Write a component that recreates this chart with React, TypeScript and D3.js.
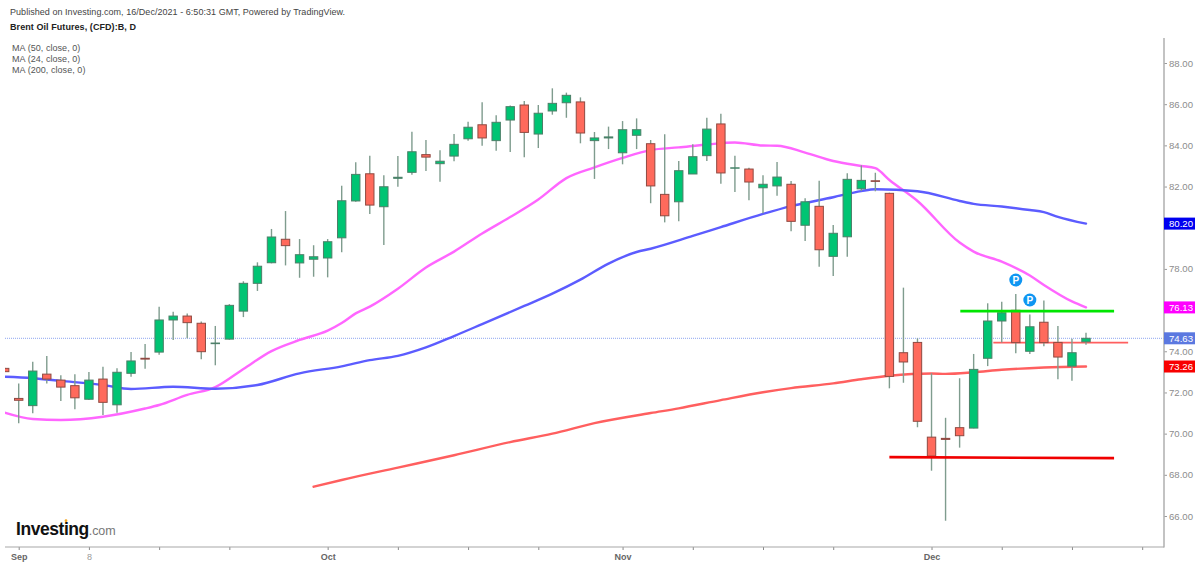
import { useEffect, useRef } from 'react';
import * as d3 from 'd3';

const WIDTH = 1200;
const HEIGHT = 566;

// daily candles, index -1 is the one cut off by the left edge
const firstDay = -1;
const opens = [73.17, 71.71, 71.36, 72.89, 72.6, 72.33, 71.67, 72.65, 71.4, 72.93, 73.66, 73.96, 75.52, 75.71, 75.36, 74.37, 74.59, 75.95, 77.3, 78.3, 79.44, 78.29, 78.47, 78.53, 79.51, 81.3, 82.62, 81.02, 82.4, 82.69, 83.55, 83.11, 83.48, 84.32, 85.0, 84.23, 85.23, 85.96, 84.55, 85.67, 86.07, 86.11, 84.23, 84.36, 83.64, 84.49, 84.08, 81.62, 81.26, 82.61, 83.5, 85.04, 82.89, 82.85, 81.94, 82.03, 82.11, 80.12, 81.04, 78.61, 79.56, 81.89, 82.28, 81.67, 73.93, 74.43, 69.83, 69.77, 70.29, 70.27, 73.66, 75.47, 75.99, 74.0, 75.41, 74.43, 73.28, 74.46];
const highs = [73.2, 72.44, 73.49, 73.77, 72.83, 72.88, 72.99, 73.25, 73.17, 73.96, 74.35, 76.16, 75.92, 75.84, 75.45, 75.23, 76.29, 77.4, 78.32, 79.94, 80.81, 79.45, 79.15, 79.45, 82.04, 83.18, 83.5, 82.55, 83.48, 84.66, 84.26, 83.76, 84.55, 85.15, 86.09, 85.46, 85.93, 86.15, 85.96, 86.77, 86.56, 86.33, 84.65, 84.91, 85.18, 85.31, 84.26, 84.54, 83.24, 84.05, 85.34, 85.54, 83.5, 82.91, 82.55, 83.19, 82.27, 81.43, 82.28, 80.13, 82.64, 83.03, 82.67, 81.7, 77.09, 74.63, 72.93, 70.77, 72.69, 73.87, 76.33, 76.41, 76.78, 75.78, 76.46, 75.23, 74.61, 74.9];
const lows = [73.0, 70.5, 70.99, 72.44, 71.58, 71.18, 71.63, 70.9, 71.02, 72.76, 73.15, 73.83, 74.55, 74.63, 73.61, 73.32, 74.56, 75.66, 76.93, 78.27, 78.17, 77.57, 77.62, 77.59, 78.81, 81.26, 80.67, 79.16, 81.99, 82.57, 82.75, 82.23, 83.23, 84.23, 83.98, 83.74, 83.68, 83.42, 83.87, 85.49, 85.34, 84.1, 82.37, 83.82, 83.08, 83.82, 81.19, 80.26, 80.31, 82.61, 83.24, 82.14, 81.73, 81.33, 80.7, 81.55, 79.83, 79.35, 78.11, 77.65, 78.59, 81.78, 81.77, 72.2, 72.47, 70.31, 68.2, 65.77, 69.32, 70.26, 73.28, 74.42, 73.9, 73.87, 74.25, 72.64, 72.57, 74.32];
const closes = [73.01, 71.62, 73.04, 72.65, 72.26, 71.74, 72.6, 71.52, 72.98, 73.53, 73.62, 75.52, 75.71, 75.39, 73.98, 74.4, 76.23, 77.3, 78.13, 79.55, 79.13, 78.69, 78.59, 79.32, 81.31, 82.59, 81.1, 81.99, 82.45, 83.69, 83.43, 83.23, 84.05, 84.88, 84.36, 85.12, 85.88, 84.63, 85.56, 86.04, 86.43, 84.6, 84.36, 84.41, 84.76, 84.76, 82.03, 80.58, 82.77, 83.45, 84.79, 82.66, 82.91, 82.22, 82.11, 82.46, 80.31, 81.26, 78.93, 79.73, 82.35, 82.3, 82.25, 72.78, 73.48, 70.6, 68.91, 69.72, 69.9, 73.12, 75.47, 75.87, 74.42, 75.19, 74.42, 73.72, 73.93, 74.63];

// moving averages, read at the days listed next to them
const ma50Days = [-1, 1, 3, 6, 8, 11, 14, 17, 20, 23, 25, 27, 29, 31, 33, 36, 38, 40, 42, 44, 45, 48, 50, 53, 55, 58, 60, 61, 64, 67, 68, 70, 72, 73, 74, 76];
const ma50 = [72.76, 72.69, 72.56, 72.36, 72.17, 72.28, 72.18, 72.36, 72.93, 73.27, 73.57, 73.78, 74.19, 74.74, 75.32, 76.2, 76.8, 77.48, 78.26, 78.82, 78.98, 79.6, 80.03, 80.67, 81.05, 81.48, 81.78, 81.87, 81.77, 81.3, 81.16, 81.03, 80.86, 80.76, 80.53, 80.2];
const ma24Days = [-1, 1, 3, 6, 9, 10, 12, 14, 16, 18, 20, 22, 23, 24, 25, 27, 29, 31, 33, 35, 37, 39, 41, 43, 45, 47, 49, 51, 53, 54, 56, 58, 60, 61, 62, 64, 67, 68, 70, 72, 73, 75, 76];
const ma24 = [71.02, 70.71, 70.66, 70.82, 71.22, 71.39, 71.88, 72.26, 73.14, 74.01, 74.55, 75.0, 75.37, 75.84, 76.17, 77.04, 78.07, 78.84, 79.72, 80.52, 81.37, 82.41, 82.93, 83.39, 83.77, 83.9, 84.04, 84.14, 83.99, 83.98, 83.65, 83.24, 83.0, 82.89, 82.32, 81.3, 79.28, 78.84, 78.35, 77.68, 77.22, 76.42, 76.13];
const ma200Days = [21, 23, 27, 31, 35, 38, 41, 45, 47, 50, 53, 55, 58, 60, 62, 65, 66, 68, 70, 73, 76];
const ma200 = [67.42, 67.75, 68.35, 68.95, 69.59, 70.0, 70.51, 71.0, 71.23, 71.63, 72.01, 72.21, 72.44, 72.64, 72.81, 72.92, 72.9, 72.98, 73.1, 73.21, 73.26];

const priceTicks = d3.range(66, 90, 2);
const dateTicks = [0, 5, 10, 15, 22, 27, 32, 37, 43, 48, 53, 58, 65, 70, 75, 80];
const dateLabels = ['Sep', '8', '', '', 'Oct', '', '', '', 'Nov', '', '', '', 'Dec', '', '', ''];
const lastPrice = 74.63;

// hand drawn levels on the chart [startDay, startPrice, endDay, endPrice]
const thinLevel = [69.4, 74.42, 79, 74.42];
const greenLevel = [67.05, 75.95, 78, 75.95];
const redLevel = [62, 68.86, 78, 68.81];

const pinDays = [71, 72];
const pinPrices = [77.46, 76.49];

const priceTags = [
  { value: 80.2, color: '#0000f0' },
  { value: 76.13, color: '#ff00ff' },
  { value: 74.63, color: '#5b78e0' },
  { value: 73.26, color: '#f80000' },
];

const legendLines = ['MA (50, close, 0)', 'MA (24, close, 0)', 'MA (200, close, 0)'];

const FONT = "'Liberation Sans', Arial, sans-serif";

export default function App() {
  const svgRef = useRef<SVGSVGElement>(null);

  useEffect(() => {
    if (!svgRef.current) return;
    const svg = d3.select(svgRef.current);
    svg.selectAll('*').remove();

    const x = d3.scaleLinear().domain([0, 76]).range([18.7, 1086]);
    const y = d3.scaleLinear().domain([66, 88]).range([516, 63]);
    const axisRight = 1164;
    const axisBottom = 547;
    const left = 5;

    svg
      .append('defs')
      .append('clipPath')
      .attr('id', 'plot')
      .append('rect')
      .attr('x', left)
      .attr('y', 30)
      .attr('width', axisRight - left)
      .attr('height', axisBottom - 30);

    const plot = svg.append('g').attr('clip-path', 'url(#plot)');

    // last price dotted line
    plot
      .append('line')
      .attr('x1', left)
      .attr('x2', axisRight)
      .attr('y1', y(lastPrice))
      .attr('y2', y(lastPrice))
      .attr('stroke', '#8ea6f0')
      .attr('stroke-width', 1)
      .attr('stroke-dasharray', '1 1');

    const maLine = d3
      .line<[number, number]>()
      .x((d) => x(d[0]))
      .y((d) => y(d[1]))
      .curve(d3.curveMonotoneX);

    const drawMa = (days: number[], values: number[], color: string, sw: number) => {
      plot
        .append('path')
        .attr('d', maLine(days.map((d, i) => [d, values[i]] as [number, number])))
        .attr('fill', 'none')
        .attr('stroke', color)
        .attr('stroke-width', sw)
        .attr('stroke-linecap', 'round');
    };
    drawMa(ma200Days, ma200, '#ff5f5f', 2.4);
    drawMa(ma24Days, ma24, '#ff66ff', 2.4);
    drawMa(ma50Days, ma50, '#5c5cff', 2.4);

    const drawLevel = (level: number[], color: string, sw: number) => {
      plot
        .append('line')
        .attr('x1', x(level[0]))
        .attr('y1', y(level[1]))
        .attr('x2', x(level[2]))
        .attr('y2', y(level[3]))
        .attr('stroke', color)
        .attr('stroke-width', sw);
    };
    drawLevel(thinLevel, '#ff5f5f', 1.6);

    // candles
    const days = opens.map((_, i) => i + firstDay);
    const candles = plot
      .selectAll('g.candle')
      .data(days)
      .join('g')
      .attr('class', 'candle');

    candles
      .append('line')
      .attr('x1', (d) => x(d))
      .attr('x2', (d) => x(d))
      .attr('y1', (_, i) => y(highs[i]))
      .attr('y2', (_, i) => y(lows[i]))
      .attr('stroke', '#7f9c8e')
      .attr('stroke-width', 1.4);

    const bodyWidth = 8.4;
    candles
      .append('rect')
      .attr('x', (d) => x(d) - bodyWidth / 2)
      .attr('width', bodyWidth)
      .attr('y', (_, i) => y(Math.max(opens[i], closes[i])))
      .attr('height', (_, i) => Math.abs(y(opens[i]) - y(closes[i])))
      .attr('fill', (_, i) => (closes[i] >= opens[i] ? '#00c473' : '#ff6a5c'))
      .attr('stroke', (_, i) => (closes[i] >= opens[i] ? '#4c7f68' : '#8f4a42'))
      .attr('stroke-width', 1);

    drawLevel(greenLevel, '#00e600', 2.6);
    drawLevel(redLevel, '#f00000', 2.6);

    // P pins
    const pins = svg.append('g');
    pinDays.forEach((day, i) => {
      const pin = pins
        .append('g')
        .attr('transform', `translate(${x(day)},${y(pinPrices[i])})`);
      pin.append('circle').attr('r', 6.5).attr('fill', '#0f96f2');
      pin
        .append('text')
        .attr('text-anchor', 'middle')
        .attr('y', 3.6)
        .attr('font-family', FONT)
        .attr('font-size', 10)
        .attr('font-weight', 700)
        .attr('fill', '#fff')
        .text('P');
    });

    // axes, the labels under a price tag are covered in the original
    const isCovered = (tick: number) =>
      priceTags.some((tag) => Math.abs(y(tick) - y(tag.value)) < 10);
    const yAxis = svg
      .append('g')
      .attr('transform', `translate(${axisRight},0)`)
      .call(
        d3
          .axisRight(y)
          .tickValues(priceTicks)
          .tickSize(3)
          .tickPadding(2)
          .tickFormat((d) => (isCovered(d as number) ? '' : (d as number).toFixed(2)))
      );
    yAxis.select('.domain').remove();
    yAxis.selectAll('.tick line').attr('stroke', '#9a9a9a');
    yAxis
      .selectAll('.tick text')
      .attr('fill', '#8c8c8c')
      .attr('font-family', FONT)
      .attr('font-size', 9.6);

    svg
      .append('line')
      .attr('x1', axisRight)
      .attr('x2', axisRight)
      .attr('y1', 38)
      .attr('y2', axisBottom + 0.5)
      .attr('stroke', '#b4b4b4')
      .attr('stroke-width', 1.6);

    const xAxis = svg
      .append('g')
      .attr('transform', `translate(0,${axisBottom})`)
      .call(
        d3
          .axisBottom(x)
          .tickValues(dateTicks)
          .tickSize(3)
          .tickPadding(4)
          .tickFormat((_, i) => dateLabels[i])
      );
    xAxis.select('.domain').remove();
    xAxis.selectAll('.tick line').attr('stroke', '#8a8a8a');
    xAxis
      .selectAll('.tick text')
      .attr('fill', (_, i) => (i === 1 ? '#9a9a9a' : '#666'))
      .attr('font-family', FONT)
      .attr('font-size', 9)
      .attr('font-weight', (_, i) => (i === 1 ? 400 : 700));

    svg
      .append('line')
      .attr('x1', left)
      .attr('x2', axisRight)
      .attr('y1', axisBottom)
      .attr('y2', axisBottom)
      .attr('stroke', '#a8a8a8')
      .attr('stroke-width', 1.2);

    // price tags on the axis
    const tags = svg
      .selectAll('g.tag')
      .data(priceTags)
      .join('g')
      .attr('class', 'tag')
      .attr('transform', (d) => `translate(${axisRight},${y(d.value)})`);
    tags
      .append('rect')
      .attr('x', 0)
      .attr('y', -6)
      .attr('width', 31)
      .attr('height', 12)
      .attr('fill', (d) => d.color);
    tags
      .append('text')
      .attr('x', 5)
      .attr('y', 3.5)
      .attr('fill', '#fff')
      .attr('font-family', FONT)
      .attr('font-size', 9.6)
      .text((d) => d.value.toFixed(2));

    // header
    svg
      .append('text')
      .attr('x', 10)
      .attr('y', 14.5)
      .attr('fill', '#444')
      .attr('font-family', FONT)
      .attr('font-size', 9)
      .attr('letter-spacing', 0.04)
      .text('Published on Investing.com, 16/Dec/2021 - 6:50:31 GMT, Powered by TradingView.');
    svg
      .append('text')
      .attr('x', 10)
      .attr('y', 29.5)
      .attr('fill', '#222')
      .attr('font-family', FONT)
      .attr('font-size', 9)
      .attr('font-weight', 700)
      .attr('letter-spacing', 0.07)
      .text('Brent Oil Futures, (CFD):B, D');
    svg
      .selectAll('text.legend')
      .data(legendLines)
      .join('text')
      .attr('class', 'legend')
      .attr('x', 12)
      .attr('y', (_, i) => 51 + i * 11)
      .attr('fill', '#555')
      .attr('font-family', FONT)
      .attr('font-size', 9)
      .attr('letter-spacing', 0.05)
      .text((d) => d);

    // logo
    const logo = svg.append('text').attr('x', 16).attr('y', 534.5).attr('font-family', FONT);
    logo
      .append('tspan')
      .attr('font-size', 17.5)
      .attr('font-weight', 700)
      .attr('letter-spacing', -0.45)
      .attr('fill', '#111')
      .text('Investing');
    logo
      .append('tspan')
      .attr('font-size', 12.5)
      .attr('fill', '#777')
      .attr('letter-spacing', -0.1)
      .text('.com');
    svg.append('circle').attr('cx', 66).attr('cy', 520.7).attr('r', 1.4).attr('fill', '#f5a623');
  }, []);

  return (
    <svg
      ref={svgRef}
      width={WIDTH}
      height={HEIGHT}
      viewBox={`0 0 ${WIDTH} ${HEIGHT}`}
      style={{ position: 'absolute', top: 0, left: 0, background: '#fff' }}
    />
  );
}
